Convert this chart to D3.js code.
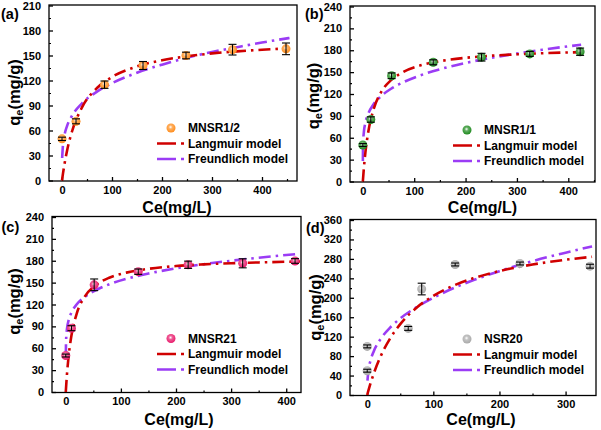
<!DOCTYPE html>
<html><head><meta charset="utf-8">
<script src="https://cdn.jsdelivr.net/npm/d3@7"></script>
<style>html,body{margin:0;padding:0;background:#fff;}svg{display:block;font-family:"Liberation Sans",Arial,sans-serif;}</style>
</head><body>
<script>
// ---------- data ----------
// panel (a) MNSR1/2
const ceA = [0, 28, 85, 162, 248, 341, 448];
const qeA = [50, 71, 115, 138, 150, 157, 158];
const errA = [2, 3, 4.4, 4.8, 4, 6.4, 7];
const langCeA = [0, 2, 5, 10, 20, 40, 70, 100, 150, 200, 250, 300, 350, 400, 455];
const langQeA = [0, 8.5, 19.8, 35.5, 58.8, 87.7, 111, 124.2, 136.9, 144.3, 149, 152.5, 155, 156.9, 158.6];
const freuCeA = [0.3, 2, 5, 10, 20, 40, 70, 100, 150, 200, 250, 300, 350, 400, 455];
const freuQeA = [27, 43.4, 54.7, 65.2, 77.7, 92.6, 106.7, 116.7, 129.3, 139, 147.4, 154.2, 160, 165.6, 171];
// panel (b) MNSR1/1
const ceB = [0, 15.5, 56, 137, 231, 325, 423];
const qeB = [50, 85, 145, 163.5, 170.5, 175, 178];
const errB = [2, 3.7, 3.9, 3.4, 5.3, 3.4, 5];
const langCeB = [0, 2, 5, 10, 20, 35, 55, 80, 110, 150, 200, 250, 300, 350, 400, 425];
const langQeB = [0, 18.3, 39.9, 65.6, 96.9, 121.8, 139, 150.7, 158.8, 165, 169.6, 172.5, 174.4, 175.9, 177, 177.4];
const freuCeB = [0.02, 0.5, 2, 5, 10, 20, 35, 55, 80, 110, 150, 200, 250, 300, 350, 400, 425];
const freuQeB = [28, 52, 67.8, 80.7, 92, 105, 116.7, 127.2, 136.5, 145.1, 153.9, 162.6, 169.6, 175.5, 180.8, 185.4, 187.5];
// panel (c) MNSR21
const ceC = [0, 10.3, 51.5, 131.5, 222, 321, 416];
const qeC = [50, 87.5, 147, 165, 174.5, 176.5, 179.7];
const errC = [2, 3.4, 8, 3.7, 5, 6.2, 3.2];
const langCeC = [0, 2, 5, 10, 20, 35, 55, 80, 110, 150, 200, 250, 300, 350, 400, 425];
const langQeC = [0, 22.7, 48, 76.2, 107.9, 131.4, 146.9, 157, 163.7, 168.9, 172.7, 175, 176.6, 177.7, 178.6, 179];
const freuCeC = [0.05, 0.5, 2, 5, 10, 20, 35, 55, 80, 110, 150, 200, 250, 300, 350, 400, 425];
const freuQeC = [49, 69.5, 85.4, 97.9, 108.5, 120.3, 130.8, 139.9, 148, 155.2, 162.4, 169.6, 175.3, 180, 184.2, 187.9, 189.6];
// panel (d) NSR20
const ceD = [0, 0, 62, 82.4, 133, 231, 337];
const qeD = [50, 100, 137, 218, 268.5, 270.5, 265];
const errD = [3, 3, 4, 12, 3, 3, 4];
const langCeD = [0, 5, 10, 20, 35, 50, 75, 100, 130, 160, 200, 250, 300, 340];
const langQeD = [0, 23.7, 44.3, 78.5, 117, 145.7, 180, 204, 224.7, 240, 255, 268.4, 278.2, 284.3];
const freuCeD = [0.4, 2, 5, 10, 20, 35, 50, 75, 100, 130, 160, 200, 250, 300, 340];
const freuQeD = [29.5, 51.5, 70.8, 90, 114.6, 139, 157.5, 181, 200, 219.5, 236, 254.7, 275.4, 292.8, 305.8];

const xTicksAB = [0, 100, 200, 300, 400];
const xTicksC = [0, 100, 200, 300, 400];
const xTicksD = [0, 100, 200, 300];
const yTicksA = [0, 30, 60, 90, 120, 150, 180, 210];
const yTicksBC = [0, 30, 60, 90, 120, 150, 180, 210, 240];
const yTicksD = [0, 40, 80, 120, 160, 200, 240, 280, 320, 360];
const panelLabels = ["(a)", "(b)", "(c)", "(d)"];
const seriesNames = ["MNSR1/2", "MNSR1/1", "MNSR21", "NSR20"];
const modelNames = ["Langmuir model", "Freundlich model"];

// ---------- drawing ----------
const W = 601, H = 430;
const svg = d3.select("body").append("svg").attr("width", W).attr("height", H);
const defs = svg.append("defs");
const markerColors = ["#ff8c1a", "#1d8a1d", "#e8196a", "#a9a9a9"];
markerColors.forEach((c, i) => {
  const g = defs.append("radialGradient").attr("id", "g" + i).attr("cx", "45%").attr("cy", "40%").attr("r", "60%");
  g.append("stop").attr("offset", "0%").attr("stop-color", "#ffffff");
  g.append("stop").attr("offset", "35%").attr("stop-color", d3.interpolateRgb(c, "#fff")(0.3));
  g.append("stop").attr("offset", "100%").attr("stop-color", c);
});

const RED = "#d00000", PURPLE = "#9b3cf5";

const panels = [
  {ce: ceA, qe: qeA, err: errA, lc: langCeA, lq: langQeA, fc: freuCeA, fq: freuQeA,
   xd: [-26, 470], xr: [49, 297], yd: [0, 210], yr: [180.5, 5.5], frame: [49, 5, 297, 181],
   xt: xTicksAB, yt: yTicksA, xMinor: 50, yMinor: 15,
   lab: [1, 19], ylab: [15, 92.5], xlab: [177, 212.5], leg: [157, 128]},
  {ce: ceB, qe: qeB, err: errB, lc: langCeB, lq: langQeB, fc: freuCeB, fq: freuQeB,
   xd: [-25, 452], xr: [350, 595], yd: [0, 240], yr: [181.5, 6.5], frame: [350, 6, 595, 182],
   xt: xTicksAB, yt: yTicksBC, xMinor: 50, yMinor: 15,
   lab: [305, 19], ylab: [314.5, 96], xlab: [482.5, 212.5], leg: [453, 130]},
  {ce: ceC, qe: qeC, err: errC, lc: langCeC, lq: langQeC, fc: freuCeC, fq: freuQeC,
   xd: [-25, 425], xr: [52, 300], yd: [0, 240], yr: [392, 217], frame: [52, 216.5, 301, 392.5],
   xt: xTicksC, yt: yTicksBC, xMinor: 50, yMinor: 15,
   lab: [1.5, 232], ylab: [15, 301.5], xlab: [179, 425], leg: [157, 338.5]},
  {ce: ceD, qe: qeD, err: errD, lc: langCeD, lq: langQeD, fc: freuCeD, fq: freuQeD,
   xd: [-26, 346], xr: [350, 596], yd: [0, 360], yr: [395, 220], frame: [350, 219.5, 596, 395.5],
   xt: xTicksD, yt: yTicksD, xMinor: 50, yMinor: 20,
   lab: [306, 233], ylab: [316, 307.5], xlab: [481, 425], leg: [453, 339]}
];

panels.forEach((p, i) => {
  const g = svg.append("g");
  const x = d3.scaleLinear().domain(p.xd).range(p.xr);
  const y = d3.scaleLinear().domain(p.yd).range(p.yr);
  const [fl, ft, fr, fb] = p.frame;

  // frame
  g.append("rect").attr("x", fl).attr("y", ft).attr("width", fr - fl).attr("height", fb - ft)
    .attr("fill", "none").attr("stroke", "#000").attr("stroke-width", 1.3);

  // x axis (ticks inward)
  const xMinorVals = d3.range(p.xMinor, p.xd[1], p.xMinor * 2).filter(v => v > p.xd[0]);
  const xa = d3.axisBottom(x).tickValues(p.xt).tickSize(-4).tickPadding(5).tickFormat(d3.format("d"));
  const gx = g.append("g").attr("transform", `translate(0,${fb})`).call(xa);
  gx.select(".domain").remove();
  gx.selectAll("line").attr("stroke", "#000").attr("stroke-width", 1.3);
  gx.selectAll("text").attr("font-size", 11).attr("font-weight", "bold").attr("fill", "#000");
  g.append("g").attr("transform", `translate(0,${fb})`)
    .call(d3.axisBottom(x).tickValues(xMinorVals).tickSize(-2).tickFormat(""))
    .call(s => { s.select(".domain").remove(); s.selectAll("line").attr("stroke", "#000").attr("stroke-width", 1.2); });

  // y axis
  const yMinorVals = d3.range(p.yMinor, p.yd[1], p.yMinor * 2);
  const ya = d3.axisLeft(y).tickValues(p.yt).tickSize(-4).tickPadding(8).tickFormat(d3.format("d"));
  const gy = g.append("g").attr("transform", `translate(${fl},0)`).call(ya);
  gy.select(".domain").remove();
  gy.selectAll("line").attr("stroke", "#000").attr("stroke-width", 1.3);
  gy.selectAll("text").attr("font-size", 11).attr("font-weight", "bold").attr("fill", "#000");
  g.append("g").attr("transform", `translate(${fl},0)`)
    .call(d3.axisLeft(y).tickValues(yMinorVals).tickSize(-2).tickFormat(""))
    .call(s => { s.select(".domain").remove(); s.selectAll("line").attr("stroke", "#000").attr("stroke-width", 1.2); });

  // model curves
  const line = d3.line().x(d => x(d[0])).y(d => y(d[1])).curve(d3.curveMonotoneX);
  g.append("path").datum(d3.zip(p.fc, p.fq)).attr("d", line).attr("fill", "none")
    .attr("stroke", PURPLE).attr("stroke-width", 2.6).attr("stroke-dasharray", "12,5,2.5,5");
  g.append("path").datum(d3.zip(p.lc, p.lq)).attr("d", line).attr("fill", "none")
    .attr("stroke", RED).attr("stroke-width", 2.6).attr("stroke-dasharray", "12,5,2.5,5");

  // points + error bars
  const pts = d3.zip(p.ce, p.qe, p.err);
  g.selectAll("circle.pt").data(pts).join("circle").attr("class", "pt")
    .attr("cx", d => x(d[0])).attr("cy", d => y(d[1])).attr("r", 4.5)
    .attr("fill", `url(#g${i})`);
  const eb = g.selectAll("g.eb").data(pts).join("g").attr("class", "eb")
    .attr("stroke", "#000").attr("stroke-width", 1.1);
  eb.append("line").attr("x1", d => x(d[0])).attr("x2", d => x(d[0]))
    .attr("y1", d => y(d[1] - d[2])).attr("y2", d => y(d[1] + d[2]));
  eb.append("line").attr("x1", d => x(d[0]) - 4).attr("x2", d => x(d[0]) + 4)
    .attr("y1", d => y(d[1] - d[2])).attr("y2", d => y(d[1] - d[2]));
  eb.append("line").attr("x1", d => x(d[0]) - 4).attr("x2", d => x(d[0]) + 4)
    .attr("y1", d => y(d[1] + d[2])).attr("y2", d => y(d[1] + d[2]));

  // legend
  const [lx, ly] = p.leg;
  const lg = g.append("g").attr("font-size", 12).attr("font-weight", "bold");
  lg.append("circle").attr("cx", lx + 14).attr("cy", ly).attr("r", 4.5).attr("fill", `url(#g${i})`);
  lg.append("text").attr("x", lx + 31).attr("y", ly).attr("dy", "0.36em").text(seriesNames[i]);
  [RED, PURPLE].forEach((c, k) => {
    const yy = ly + 15.5 * (k + 1);
    lg.append("line").attr("x1", lx).attr("x2", lx + 27).attr("y1", yy).attr("y2", yy)
      .attr("stroke", c).attr("stroke-width", 2.6).attr("stroke-dasharray", "19,5,3,5");
    lg.append("text").attr("x", lx + 31).attr("y", yy).attr("dy", "0.36em").text(modelNames[k]);
  });

  // panel label
  g.append("text").attr("x", p.lab[0]).attr("y", p.lab[1]).attr("font-size", 14.5)
    .attr("font-weight", "bold").text(panelLabels[i]);

  // axis titles
  g.append("text").attr("x", p.xlab[0]).attr("y", p.xlab[1]).attr("text-anchor", "middle")
    .attr("font-size", 16).attr("font-weight", "bold").text("Ce(mg/L)");
  const yt = g.append("text").attr("text-anchor", "middle").attr("font-size", 16.5).attr("font-weight", "bold")
    .attr("transform", `translate(${p.ylab[0]},${p.ylab[1]}) rotate(-90)`).attr("dy", "0.3em");
  yt.append("tspan").text("q");
  yt.append("tspan").attr("font-size", 11).attr("dy", "0.25em").text("e");
  yt.append("tspan").attr("dy", "-0.17em").text("(mg/g)");
});
</script>
</body></html>
